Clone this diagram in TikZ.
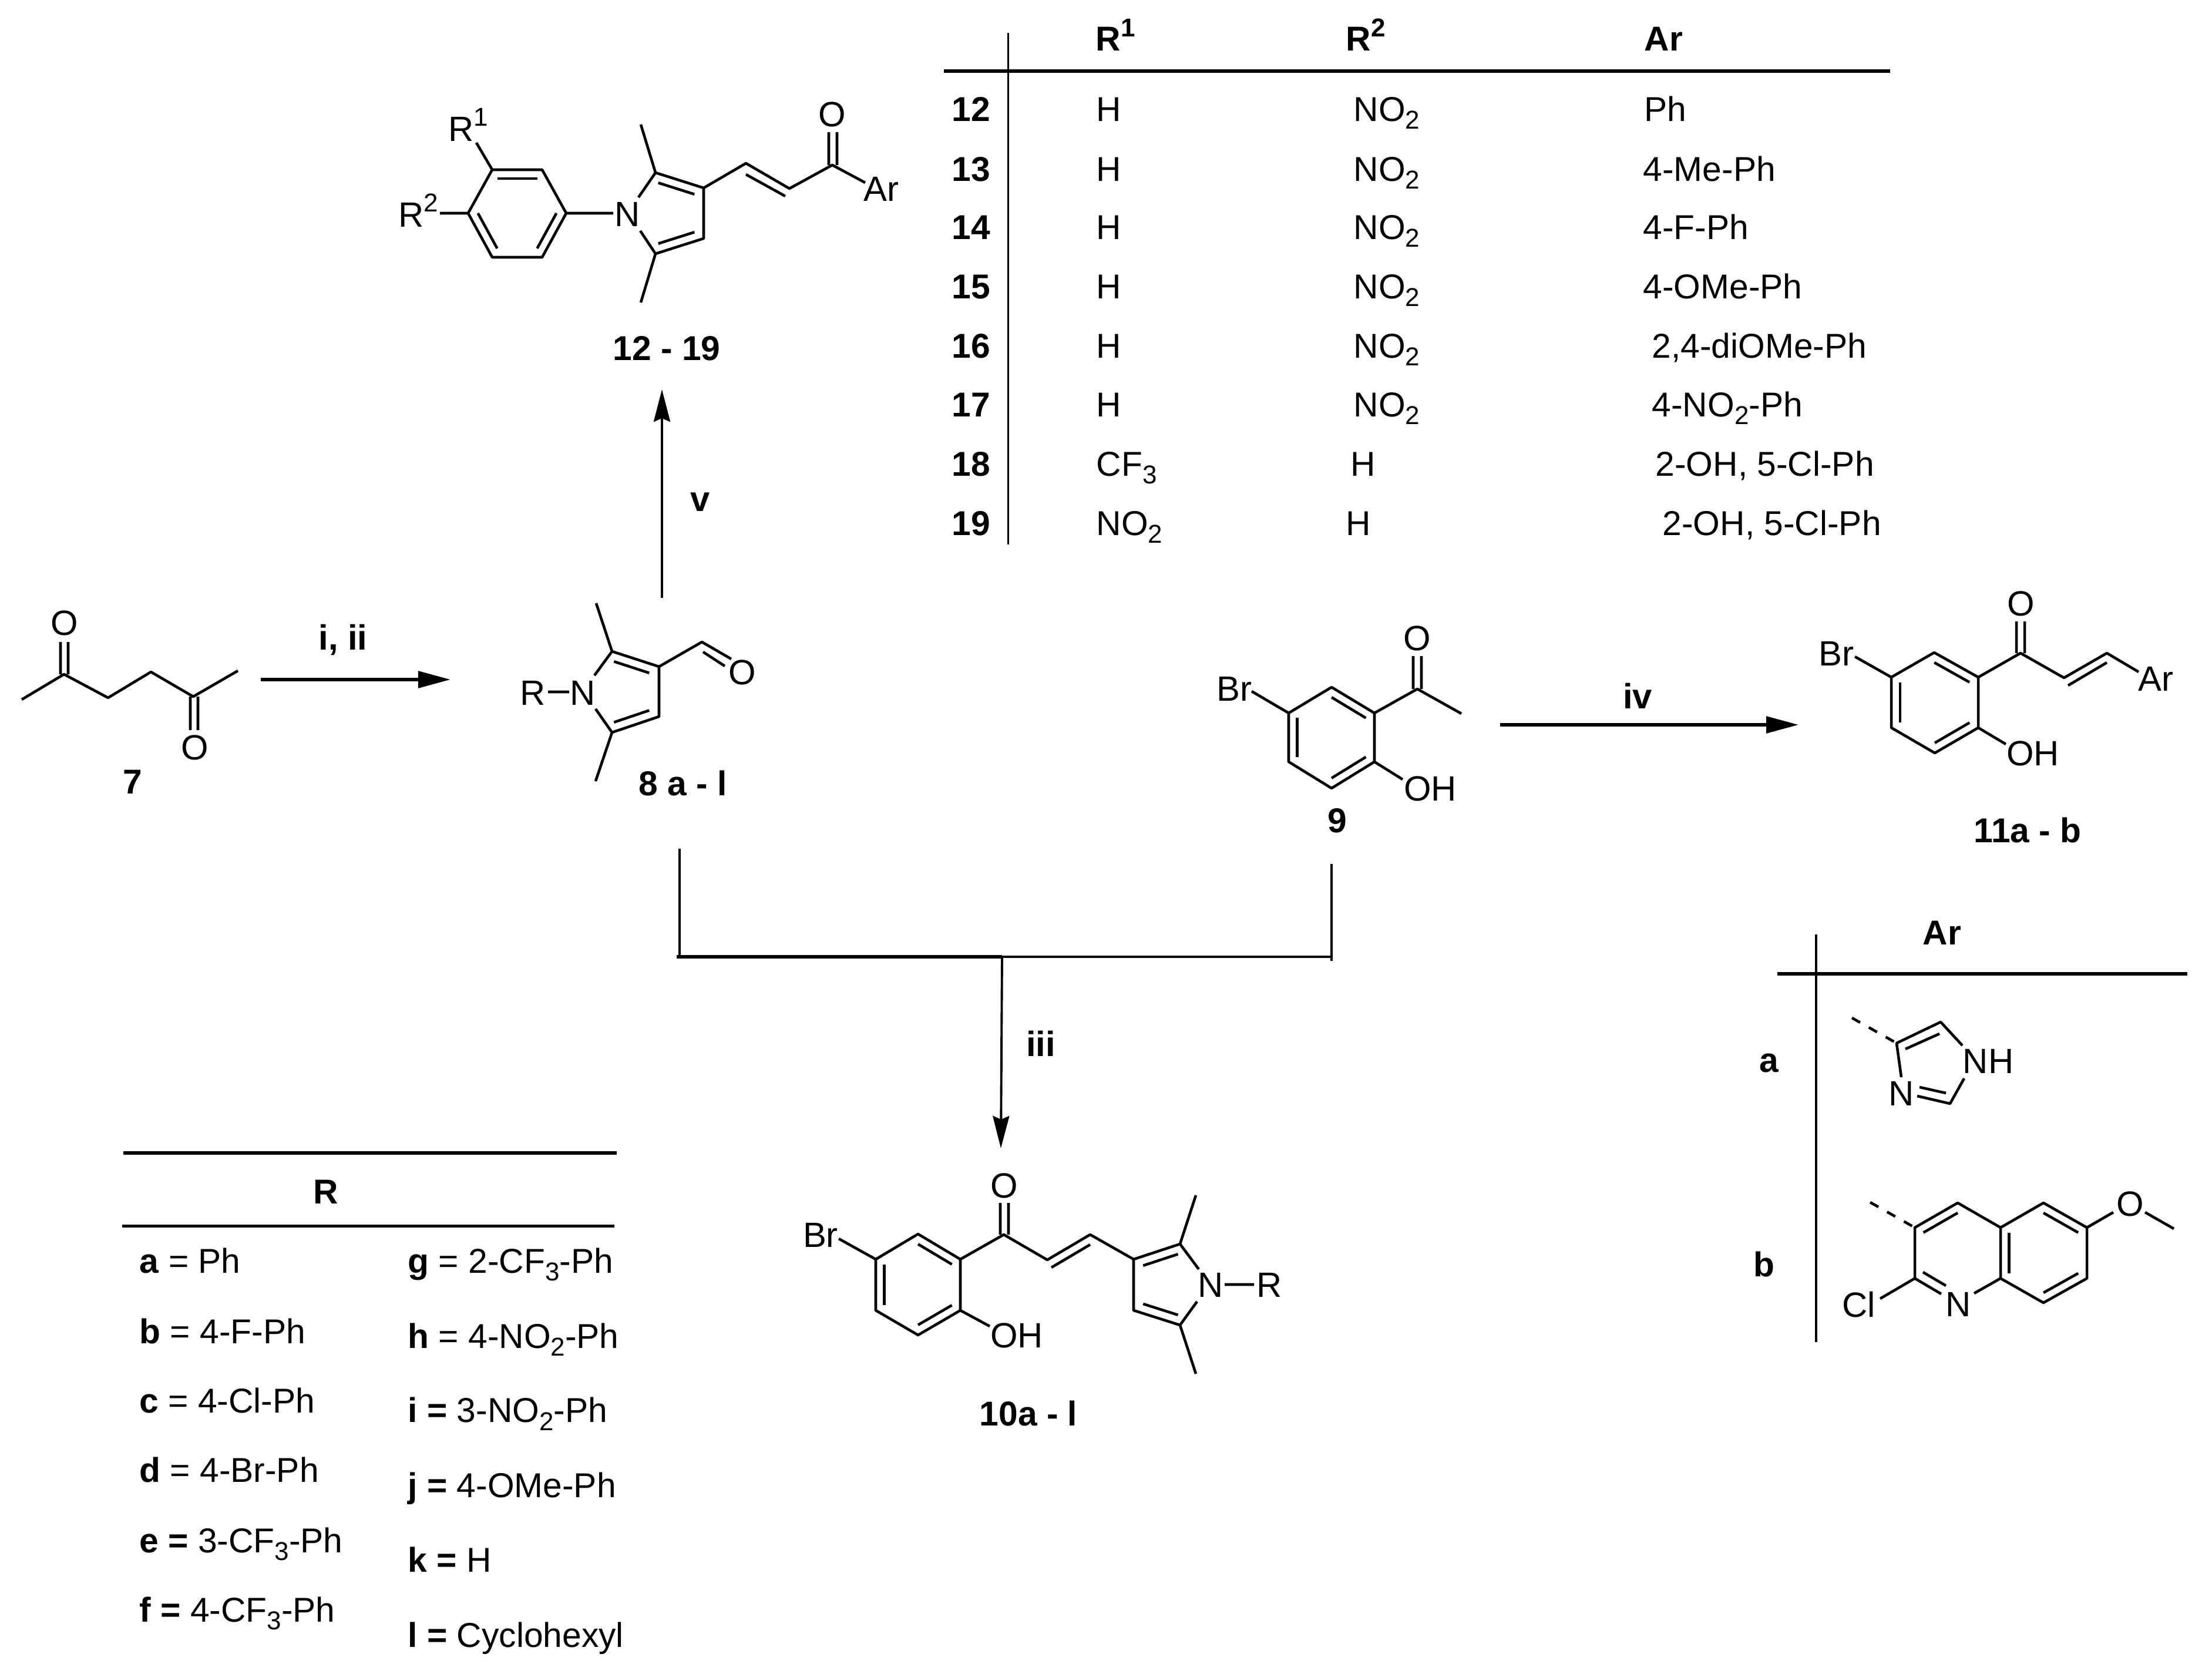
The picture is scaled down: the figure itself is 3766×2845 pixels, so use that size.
\documentclass[tikz,border=0pt]{standalone}
\usepackage{fontspec}
\setmainfont{Liberation Sans}
\usetikzlibrary{calc,arrows.meta}
\newcommand\atomfont{\fontsize{17}{20}\selectfont}
\newcommand\tabfont{\fontsize{16.7}{20}\selectfont}
\newcommand\subs[1]{\raisebox{-0.23em}{\fontsize{12.5}{14}\selectfont #1}}
\newcommand\sups[1]{\raisebox{0.42em}{\fontsize{12.5}{14}\selectfont #1}}
\newcommand\innerbond[4]{\draw[bond] ($(#1)!#4!(#3)$) -- ($(#2)!#4!(#3)$);}
\newcommand\setcoords[1]{\foreach \n/\px/\py in {#1} {\coordinate (\n) at (\px,\py);}}
\tikzset{
  bond/.style={line width=1.3pt,line join=round,line cap=butt},
  dashbond/.style={line width=1.3pt,dash pattern=on 0.16cm off 0.17cm},
  rule/.style={line width=1.5pt},
  vrule/.style={line width=1.1pt},
  rxnbold/.style={line width=1.6pt,-{Stealth[length=0.55cm,width=0.28cm,inset=0pt]}},
  rxnthin/.style={line width=1.1pt,-{Stealth[length=0.55cm,width=0.28cm,inset=0.06cm]}},
  atom/.style={inner sep=0pt,font=\atomfont},
  cmpd/.style={inner sep=0pt,font=\tabfont\bfseries},
  cell/.style={inner sep=0pt,anchor=base west,font=\tabfont},
  cellb/.style={inner sep=0pt,anchor=base west,font=\tabfont\bfseries}
}
\begin{document}
\begin{tikzpicture}[x=0.01cm,y=-0.01cm]
\useasboundingbox (0,0) rectangle (3766,2845);
\fill[white] (0,0) rectangle (3766,2845);

% ---------- compound 12-19
\setcoords{a1/838/289,a2/923/289,a3/964/363,a4/923/438,a5/838/438,a6/797/363,ac/880.5/363,
 ar1/811/243,ar2/749/363,an1/1044/363,
 b2/1116/294,b3/1198/320,b4/1198/406,b5/1116/432,bc/1135/363,bn2/1087/336,bn5/1090/393,bm2/1091/212,bm5/1091/515,
 c1/1270/278,c2/1344/321,c3/1417/281,ci1/1270/297,ci2/1337/334,
 co1a/1411/281,co1b/1411/225,co2a/1425/281,co2b/1425/225,car/1473/311}
\draw[bond] (a1)--(a2)--(a3)--(a4)--(a5)--(a6)--cycle;
\innerbond{a1}{a2}{ac}{.2}\innerbond{a3}{a4}{ac}{.2}\innerbond{a5}{a6}{ac}{.2}
\draw[bond] (a1)--(ar1) (a6)--(ar2) (a3)--(an1);
\draw[bond] (bn2)--(b2)--(b3)--(b4)--(b5)--(bn5) (b2)--(bm2) (b5)--(bm5);
\innerbond{b2}{b3}{bc}{.25}\innerbond{b4}{b5}{bc}{.25}
\draw[bond] (b3)--(c1)--(c2)--(c3)--(car) (ci1)--(ci2) (co1a)--(co1b) (co2a)--(co2b);
\node[cell,font=\atomfont] (lr1) at (763,240) {R\sups{1}};
\node[cell,font=\atomfont] (lr2) at (678,386) {R\sups{2}};
\node[atom] (ln1) at (1068,365) {N};
\node[atom] (lo1) at (1417,195) {O};
\node[atom] (lar1) at (1500,322) {Ar};
\node[cmpd] (l12) at (1135,593) {12 - 19};

% ---------- compound 7
\setcoords{d1/37/1191,d2/109/1148,d3/184/1188,d4/257/1144,d5/329/1186,d6/405/1142,
 do1a/103/1148,do1b/103/1093,do2a/116/1148,do2b/116/1093,
 do3a/324/1186,do3b/324/1243,do4a/337/1186,do4b/337/1243}
\draw[bond] (d1)--(d2)--(d3)--(d4)--(d5)--(d6) (do1a)--(do1b) (do2a)--(do2b) (do3a)--(do3b) (do4a)--(do4b);
\node[atom] (ldo1) at (110,1061) {O};
\node[atom] (ldo2) at (332,1273) {O};
\node[cmpd] (l7) at (226,1331) {7};

% ---------- arrow i, ii
\setcoords{e1/444/1157,e2/767/1157}
\draw[rxnbold] (e1)--(e2);
\node[cmpd,font=\atomfont\bfseries] (lii) at (584,1089) {i, ii};

% ---------- compound 8
\setcoords{f2/1042/1109,f3/1122/1135,f4/1122/1220,f5/1042/1247,fc/1055/1178,fn2/1012/1150,fn5/1014/1207,
 fm2/1015/1027,fm5/1014/1330,fr1/933/1178,fr2/969/1178,
 g1/1195/1093,g2/1245/1122,g3/1197/1110,g4/1234/1134}
\draw[bond] (fn2)--(f2)--(f3)--(f4)--(f5)--(fn5) (f2)--(fm2) (f5)--(fm5) (fr1)--(fr2);
\innerbond{f2}{f3}{fc}{.25}\innerbond{f4}{f5}{fc}{.25}
\draw[bond] (f3)--(g1)--(g2) (g3)--(g4);
\node[atom] (lfn) at (992,1180) {N};
\node[atom] (lfr) at (907,1180) {R};
\node[atom] (lfo) at (1264,1145) {O};
\node[cmpd] (l8) at (1163,1333) {8 a - l};

% ---------- arrow v
\setcoords{h1/1127/1018,h2/1127/663}
\draw[rxnthin] (h1)--(h2);
\node[cmpd,font=\atomfont\bfseries] (lv) at (1192,855) {v};

% ---------- compound 9
\setcoords{j1/2267/1170,j2/2340/1214,j3/2340/1297,j4/2267/1342,j5/2194/1297,j6/2194/1214,jc/2267/1256,
 jbr/2131/1177,joh/2388/1327,k1/2413/1173,k2/2488/1215,
 ko1a/2406/1173,ko1b/2406/1117,ko2a/2420/1173,ko2b/2420/1117}
\draw[bond] (j1)--(j2)--(j3)--(j4)--(j5)--(j6)--cycle;
\innerbond{j1}{j2}{jc}{.2}\innerbond{j3}{j4}{jc}{.2}\innerbond{j5}{j6}{jc}{.2}
\draw[bond] (j6)--(jbr) (j3)--(joh) (j2)--(k1)--(k2) (ko1a)--(ko1b) (ko2a)--(ko2b);
\node[atom] (ljbr) at (2101,1173) {Br};
\node[atom] (ljo) at (2413,1087) {O};
\node[atom] (ljoh) at (2435,1343) {OH};
\node[cmpd] (l9) at (2277,1397) {9};

% ---------- arrow iv
\setcoords{m1/2554/1234,m2/3062/1234}
\draw[rxnbold] (m1)--(m2);
\node[cmpd,font=\atomfont\bfseries] (liv) at (2788,1185) {iv};

% ---------- compound 11
\setcoords{n1/3220/1153,n2/3293/1111,n3/3368/1153,n4/3368/1239,n5/3294/1282,n6/3220/1239,nc/3294/1196,
 nbr/3158/1118,noh/3415/1267,p1/3440/1112,p2/3514/1154,p3/3587/1112,pi1/3521/1167,pi2/3587/1128,par/3641/1144,
 po1a/3433/1112,po1b/3433/1058,po2a/3447/1112,po2b/3447/1058}
\draw[bond] (n1)--(n2)--(n3)--(n4)--(n5)--(n6)--cycle;
\innerbond{n2}{n3}{nc}{.2}\innerbond{n4}{n5}{nc}{.2}\innerbond{n6}{n1}{nc}{.2}
\draw[bond] (n1)--(nbr) (n4)--(noh) (n3)--(p1)--(p2)--(p3)--(par) (pi1)--(pi2) (po1a)--(po1b) (po2a)--(po2b);
\node[atom] (lnbr) at (3126,1113) {Br};
\node[atom] (lno) at (3441,1028) {O};
\node[atom] (lnoh) at (3461,1283) {OH};
\node[atom] (lnar) at (3670,1156) {Ar};
\node[cmpd] (l11) at (3452,1413) {11a - b};

% ---------- bracket and arrow iii
\setcoords{q1/1157/1445,q2/1157/1630,q3/1152/1629,q4/1706/1629,q5/2266/1629,q6/2267/1471,q7/2267/1636,q8/1706/1629,q9/1704/1955}
\draw[line width=1.3pt] (q1)--(q2) (q6)--(q7);
\draw[line width=1.6pt] (q3)--(q4);
\draw[line width=1.3pt] (q4)--(q5);
\draw[rxnthin] (q8)--(q9);
\node[cmpd,font=\atomfont\bfseries] (liii) at (1772,1777) {iii};

% ---------- compound 10
\setcoords{r1/1491/2144,r2/1563/2101,r3/1635/2144,r4/1635/2231,r5/1563/2273,r6/1491/2231,rc/1563/2187,
 rbr/1428/2109,roh/1685/2258,s1/1709/2102,s2/1783/2145,s3/1856/2102,si1/1790/2158,si2/1856/2119,
 so1a/1703/2102,so1b/1703/2048,so2a/1717/2102,so2b/1717/2048,
 t3/1930/2144,t2/2009/2118,t4/1930/2231,t5/2009/2256,tc/1995/2187,tn2/2041/2161,tn5/2038/2216,
 tm2/2036/2035,tm5/2036/2339,tr1/2085/2187,tr2/2135/2187}
\draw[bond] (r1)--(r2)--(r3)--(r4)--(r5)--(r6)--cycle;
\innerbond{r2}{r3}{rc}{.2}\innerbond{r4}{r5}{rc}{.2}\innerbond{r6}{r1}{rc}{.2}
\draw[bond] (r1)--(rbr) (r4)--(roh) (r3)--(s1)--(s2)--(s3)--(t3) (si1)--(si2) (so1a)--(so1b) (so2a)--(so2b);
\draw[bond] (tn2)--(t2)--(t3)--(t4)--(t5)--(tn5) (t2)--(tm2) (t5)--(tm5) (tr1)--(tr2);
\innerbond{t3}{t2}{tc}{.25}\innerbond{t4}{t5}{tc}{.25}
\node[atom] (lrbr) at (1397,2103) {Br};
\node[atom] (lro) at (1710,2019) {O};
\node[atom] (lroh) at (1731,2274) {OH};
\node[atom] (ltn) at (2061,2188) {N};
\node[atom] (ltr) at (2161,2188) {R};
\node[cmpd] (l10) at (1751,2406) {10a - l};

% ---------- table top
\setcoords{u1/1716.5/56,u2/1716.5/927,u3/1607/121,u4/3218/121}
\draw[vrule] (u1)--(u2);
\draw[rule] (u3)--(u4);
\node[cellb] (hr1) at (1865,87) {R\sups{1}};
\node[cellb] (hr2) at (2291,87) {R\sups{2}};
\node[cellb] (har) at (2799,87) {Ar};
\foreach \r/\yy/\ca/\cb/\xb/\cc/\xc in {
 12/206/H/{NO\subs{2}}/2304/Ph/2799,
 13/308/H/{NO\subs{2}}/2304/4-Me-Ph/2797,
 14/407/H/{NO\subs{2}}/2304/4-F-Ph/2797,
 15/508/H/{NO\subs{2}}/2304/4-OMe-Ph/2797,
 16/609/H/{NO\subs{2}}/2304/2{,}4-diOMe-Ph/2812,
 17/709/H/{NO\subs{2}}/2304/4-NO\subs{2}-Ph/2812,
 18/810/{CF\subs{3}}/H/2299/{2-OH, 5-Cl-Ph}/2818,
 19/911/{NO\subs{2}}/H/2291/{2-OH, 5-Cl-Ph}/2830}{
  \node[cellb,anchor=base] (rn\r) at (1653,\yy) {\r};
  \node[cell] (ra\r) at (1866,\yy) {\ca};
  \node[cell] (rb\r) at (\xb,\yy) {\cb};
  \node[cell] (rc\r) at (\xc,\yy) {\cc};
}

% ---------- table R
\setcoords{v1/210/1963,v2/1050/1963,v3/208/2087.5,v4/1046/2087.5}
\draw[rule] (v1)--(v2) (v3)--(v4);
\node[cellb,anchor=base] (hrr) at (554.5,2049) {R};
\foreach \k/\yy/\rest/\xx/\eqn in {
 a/2167/Ph/237/=,b/2287/4-F-Ph/237/=,c/2405/4-Cl-Ph/237/=,d/2523/4-Br-Ph/237/=,
 e/2643/3-CF\subs{3}-Ph/237/\textbf{=},f/2761/4-CF\subs{3}-Ph/237/\textbf{=},
 g/2167/2-CF\subs{3}-Ph/694/=,h/2295/4-NO\subs{2}-Ph/694/=,i/2421.5/3-NO\subs{2}-Ph/694/\textbf{=},
 j/2549/4-OMe-Ph/694/\textbf{=},k/2676/H/694/\textbf{=},l/2804/Cyclohexyl/694/\textbf{=}}{
  \node[cell] (rr\k) at (\xx,\yy) {\textbf{\k} \eqn{} \rest};
}

% ---------- table Ar
\setcoords{w1/3092/1591,w2/3092/2285,w3/3025.5/1658,w4/3724/1658}
\draw[vrule] (w1)--(w2);
\draw[rule] (w3)--(w4);
\node[cellb] (war) at (3273,1608) {Ar};
\node[cellb] (wa) at (2995,1825.5) {a};
\node[cellb] (wb) at (2985,2173) {b};

% imidazole
\setcoords{x0/3153/1733,x1/3229/1776,x2/3304/1740,x3/3341/1780,x4/3344/1836,x5/3320/1879,x6/3264/1866,x7/3237/1834,
 xi1/3244/1786,xi2/3302/1760,xi3/3313/1861,xi4/3268/1851}
\draw[dashbond] (x0)--(x1);
\draw[bond] (x7)--(x1)--(x2)--(x3) (x4)--(x5)--(x6) (xi1)--(xi2) (xi3)--(xi4);
\node[atom] (lxnh) at (3385,1807) {NH};
\node[atom] (lxn) at (3237.5,1862) {N};

% quinoline
\setcoords{y0/3184/2047,y3/3260/2090,y4/3333/2048,y4a/3406/2090,y8a/3406/2176.5,y5/3479/2048,y6/3553/2090,y7/3553/2176.5,y8/3479/2218,y2/3260/2176.5,
 yc1/3333/2133,yc2/3479/2133,yn1/3305/2203,yn2/3361/2202,yi1/3274/2166,yi2/3313/2189,ycl/3201/2211,
 yo1/3598/2064,yo2/3652/2064,yme/3701/2092}
\draw[dashbond] (y0)--(y3);
\draw[bond] (yn1)--(y2)--(y3)--(y4)--(y4a)--(y5)--(y6)--(y7)--(y8)--(y8a)--(y4a) (y8a)--(yn2) (y2)--(ycl) (yi1)--(yi2) (y6)--(yo1) (yo2)--(yme);
\innerbond{y3}{y4}{yc1}{.2}\innerbond{y4a}{y8a}{yc2}{.2}\innerbond{y5}{y6}{yc2}{.2}\innerbond{y7}{y8}{yc2}{.2}
\node[atom] (lyn) at (3334,2221) {N};
\node[atom] (lycl) at (3165,2221) {Cl};
\node[atom] (lyo) at (3627,2050) {O};
\end{tikzpicture}
\end{document}
